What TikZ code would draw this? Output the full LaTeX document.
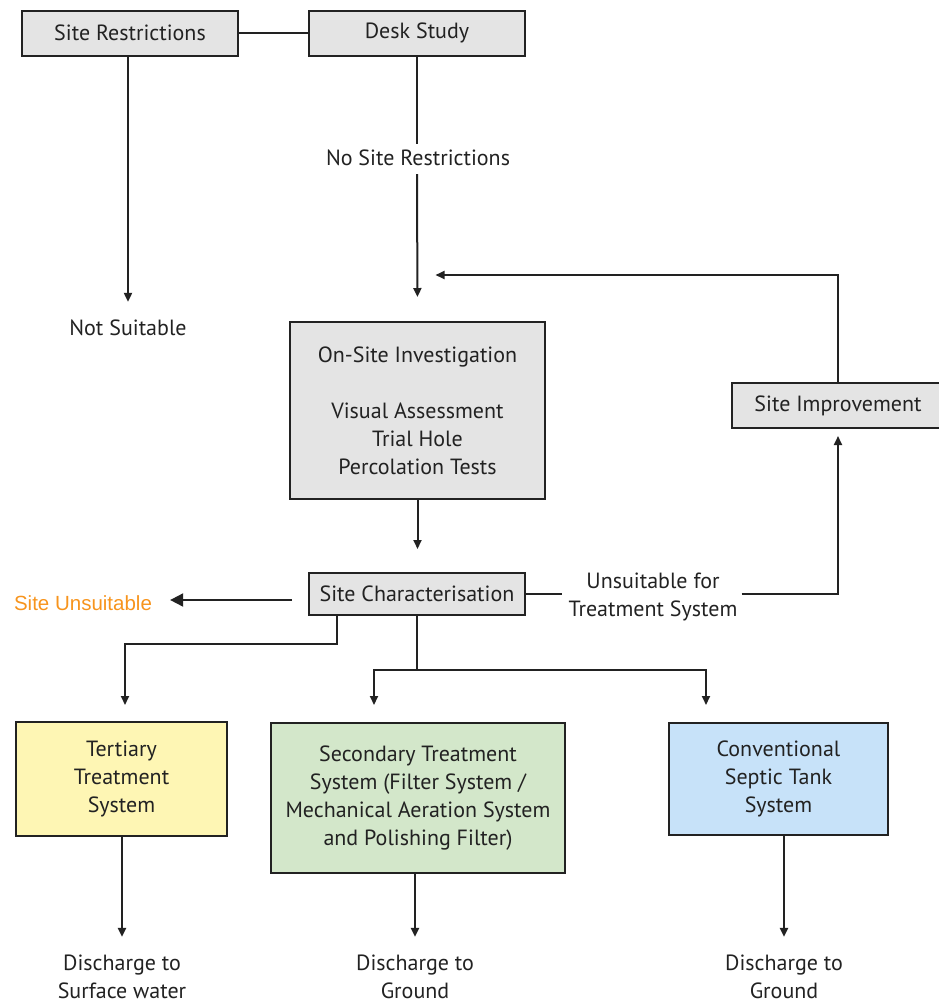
\documentclass[tikz,border=0pt]{standalone}
\usepackage{fontspec}
\setmainfont{PT Sans}
\newfontfamily\orangefont{Liberation Sans}
\usetikzlibrary{arrows.meta,calc}
\definecolor{boxgrey}{HTML}{E4E4E4}
\definecolor{boxyellow}{HTML}{FEF6B4}
\definecolor{boxgreen}{HTML}{D3E7CA}
\definecolor{boxblue}{HTML}{C7E2F9}
\definecolor{linecol}{HTML}{222222}
\definecolor{suorange}{HTML}{F7941D}
\tikzset{
  box/.style={draw=linecol, line width=2pt, fill=boxgrey, inner sep=0pt, align=center},
  lbl/.style={inner sep=0pt, align=center},
  conn/.style={draw=linecol, line width=2pt},
  arr/.style={conn, -{Triangle[length=9pt,width=8pt]}},
  bigarr/.style={conn, -{Triangle[length=13pt,width=13pt]}},
}
\begin{document}
\begin{tikzpicture}[x=1pt,y=-1pt,font=\fontsize{22}{28}\selectfont, text=linecol]
\useasboundingbox (0,0) rectangle (939,1005);
% nodes
\node[box, minimum width=216pt, minimum height=45pt] (sr) at (130,33) {Site Restrictions};
\node[box, minimum width=216pt, minimum height=45pt] (ds) at (417,33) {Desk Study};
\node[lbl] (nsr) at (418,158) {No Site Restrictions};
\node[lbl] (ns) at (128,328) {Not Suitable};
\node[box, minimum width=255pt, minimum height=177pt] (osi) at (417.5,410.5)
  {On-Site Investigation\\[28pt]Visual Assessment\\Trial Hole\\Percolation Tests};
\node[box, minimum width=212pt, minimum height=45pt] (si) at (838,405.5) {Site Improvement};
\node[box, minimum width=216pt, minimum height=42pt] (sc) at (417,594) {Site Characterisation};
\node[lbl, text=suorange, font=\orangefont\fontsize{20.5}{24}\selectfont] (su) at (83,603) {Site Unsuitable};
\node[lbl] (uts) at (653,597) {Unsuitable for\\Treatment System};
\node[box, fill=boxyellow, minimum width=211pt, minimum height=114pt] (tt) at (121.5,779)
  {Tertiary\\Treatment\\System};
\node[box, fill=boxgreen, minimum width=294pt, minimum height=150pt] (st) at (418,798)
  {Secondary Treatment\\System (Filter System /\\Mechanical Aeration System\\and Polishing Filter)};
\node[box, fill=boxblue, minimum width=219pt, minimum height=112pt] (ct) at (778.5,779)
  {Conventional\\Septic Tank\\System};
\node[lbl] (d1) at (122,977) {Discharge to\\Surface water};
\node[lbl] (d2) at (415,977) {Discharge to\\Ground};
\node[lbl] (d3) at (784,977) {Discharge to\\Ground};
\coordinate (scw) at ([yshift=-6pt]sc.west);
% connectors
\draw[conn] (sr.east) -- (ds.west);
\draw[arr] (sr.south -| ns.north) -- ([yshift=18pt]ns.north);
\draw[conn, shorten >=6pt] (ds.south) -- (nsr.north -| ds.south);
\draw[arr, shorten <=8pt, shorten >=24pt] (nsr.south -| ds.south) -- (osi.north);
\draw[arr, shorten >=4pt] (si.north) |- ([xshift=14pt,yshift=46pt]osi.north);
\draw[arr, shorten >=23pt] (osi.south) -- (osi.south |- sc.north);
\draw[bigarr, shorten <=16pt, shorten >=18pt] (scw) -- (su.east |- scw);
\draw[conn, shorten >=6pt] (sc.east) -- (uts.west |- sc.east);
\draw[arr, shorten <=4pt, shorten >=7pt] (uts.east |- sc.east) -| (si.south);
\draw[arr, shorten >=16pt] ([xshift=-80pt]sc.south) -- ++(0,28) -| ([xshift=3.5pt]tt.north);
\draw[conn] (sc.south) -- ++(0,54) coordinate (m);
\draw[arr, shorten >=17pt] (m) -| ([xshift=-44pt]st.north);
\draw[arr, shorten >=17pt] (m) -| ([xshift=-72.5pt]ct.north);
\draw[arr, shorten >=18pt] (tt.south -| d1.north) -- (d1.north);
\draw[arr, shorten >=18pt] (st.south -| d2.north) -- (d2.north);
\draw[arr, shorten >=18pt] (ct.south -| d3.north) -- (d3.north);
\end{tikzpicture}
\end{document}
